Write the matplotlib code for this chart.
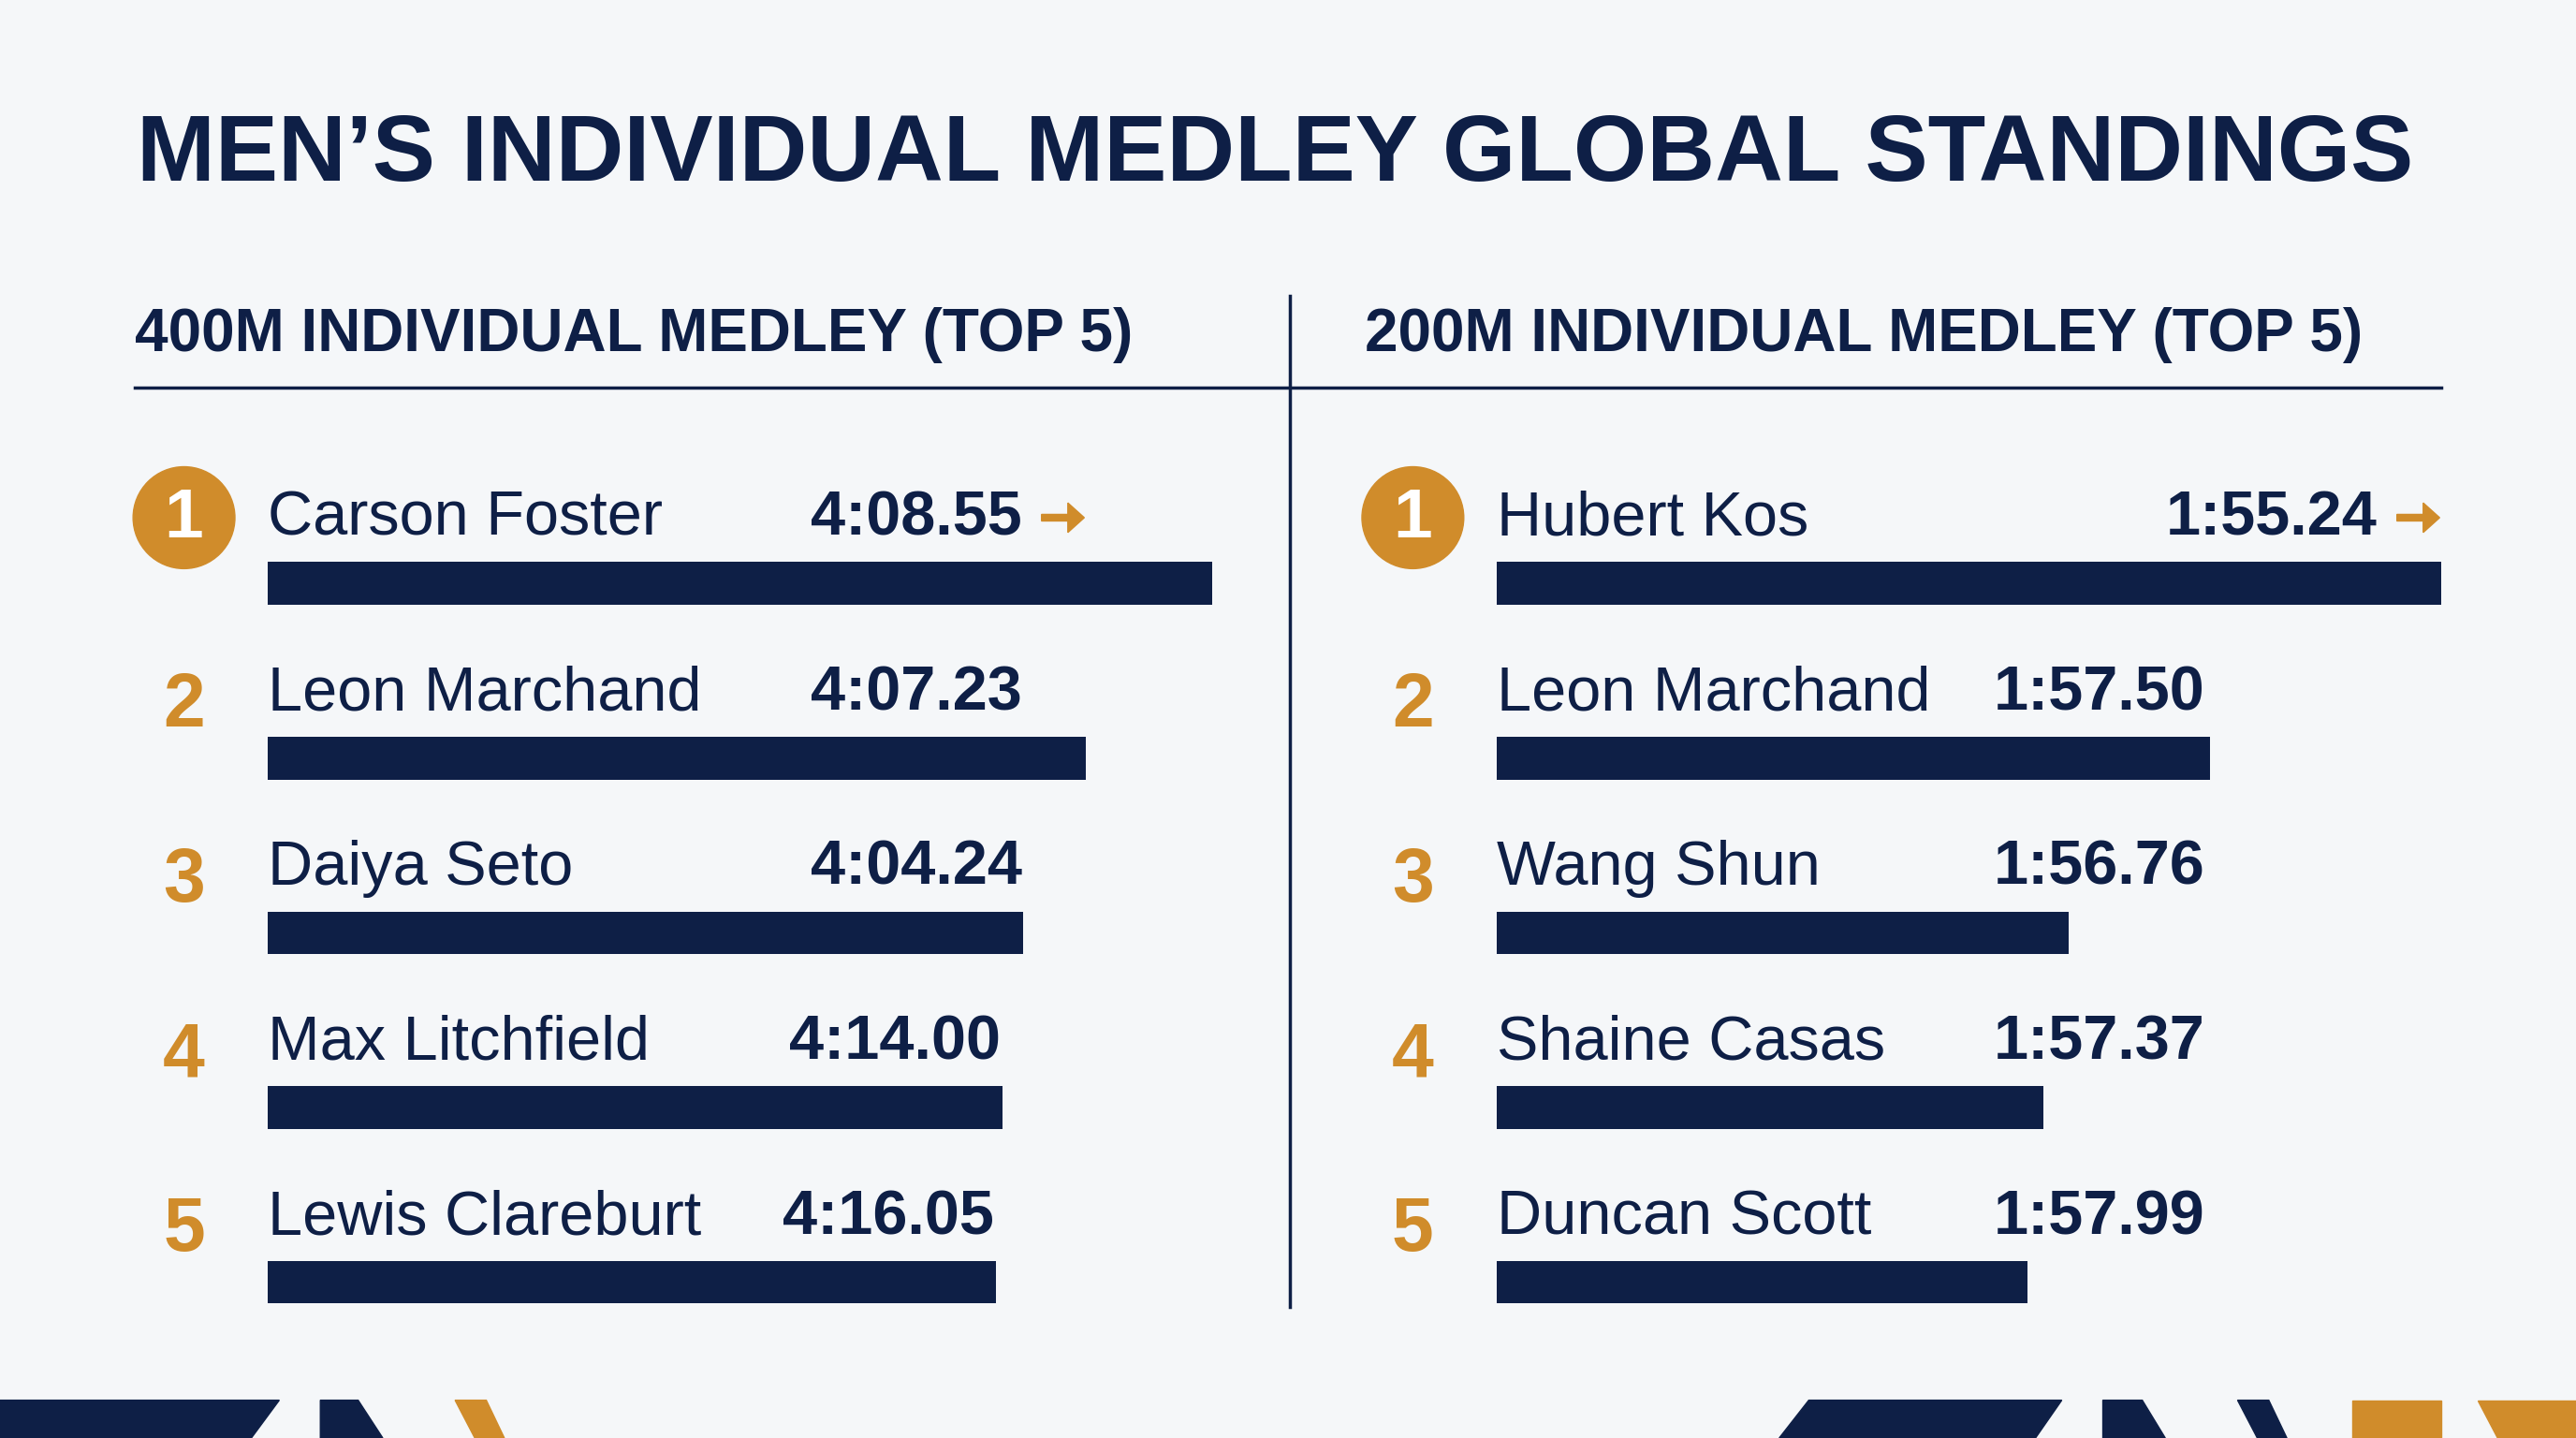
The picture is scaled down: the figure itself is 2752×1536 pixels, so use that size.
import matplotlib.pyplot as plt
from matplotlib.patches import Polygon, Circle, FancyArrow

# ------------------------
# Data
# ------------------------
names_400 = ["Carson Foster", "Leon Marchand", "Daiya Seto", "Max Litchfield", "Lewis Clareburt"]
times_400 = ["4:08.55", "4:07.23", "4:04.24", "4:14.00", "4:16.05"]
bars_400 = [575, 498, 460, 447, 443]

names_200 = ["Hubert Kos", "Leon Marchand", "Wang Shun", "Shaine Casas", "Duncan Scott"]
times_200 = ["1:55.24", "1:57.50", "1:56.76", "1:57.37", "1:57.99"]
bars_200 = [575, 434, 348, 333, 323]

ranks = [1, 2, 3, 4, 5]

NAVY = "#0E1F46"
GOLD = "#D08C2B"
BG = "#F5F7F9"
FONT = "Liberation Sans"

fig = plt.figure(figsize=(27.52, 15.36), dpi=100, facecolor=BG)
ax = fig.add_axes([0, 0, 1, 1])
ax.set_xlim(0, 1568)
ax.set_ylim(875, 0)
ax.axis("off")
ax.set_facecolor(BG)

ax.text(83, 95, "MEN\u2019S INDIVIDUAL MEDLEY GLOBAL STANDINGS", fontsize=72.5, fontweight="bold",
        color=NAVY, va="center", ha="left", family=FONT)

# layout of the two panels
panels = [
    (82, 163, [622, 622, 622, 609, 605], "400M INDIVIDUAL MEDLEY (TOP 5)", names_400, times_400, bars_400),
    (831, 911, [1447, 1342, 1342, 1342, 1342], "200M INDIVIDUAL MEDLEY (TOP 5)", names_200, times_200, bars_200),
]
row_y0, row_step = 316, 106.3

for x_head, x_bar, time_x, header, names, times, bars in panels:
    ax.text(x_head, 204, header, fontsize=46, fontweight="bold", color=NAVY,
            va="center", ha="left", family=FONT)
    for i, r in enumerate(ranks):
        y = row_y0 + i * row_step
        cx = x_bar - 51
        if r == 1:
            ax.add_patch(Circle((cx, y - 1), 31, color=GOLD, zorder=2))
            ax.text(cx, y, str(r), fontsize=54, fontweight="bold", color="white",
                    ha="center", va="center", family=FONT, zorder=3)
        else:
            ax.text(cx, y + 8, str(r), fontsize=58, fontweight="bold", color=GOLD,
                    ha="center", va="center", family=FONT)
        ax.text(x_bar, y, names[i], fontsize=48, color=NAVY, ha="left", va="center", family=FONT)
        ax.text(time_x[i], y, times[i], fontsize=48, fontweight="bold", color=NAVY,
                ha="right", va="center", family=FONT)
        if r == 1:
            ax.add_patch(FancyArrow(time_x[i] + 12, y - 1, 16, 0, width=4, head_width=18,
                                    head_length=10, color=GOLD, length_includes_head=False))
        ax.barh(y + 39, bars[i], height=26, left=x_bar, color=NAVY)

# rules
ax.plot([82, 1486], [236, 236], color=NAVY, lw=2.5)
ax.plot([785, 785], [180, 795], color=NAVY, lw=2.5)

# bottom decorative band
shapes = [
    ([(0, 852), (170, 852), (153, 875), (0, 875)], NAVY),
    ([(195, 852), (218, 852), (233, 875), (195, 875)], NAVY),
    ([(277, 852), (296, 852), (307, 875), (289, 875)], GOLD),
    ([(1101, 852), (1255, 852), (1239, 875), (1083, 875)], NAVY),
    ([(1280, 852), (1304, 852), (1318, 875), (1280, 875)], NAVY),
    ([(1362, 852), (1381, 852), (1392, 875), (1374, 875)], NAVY),
    ([(1432, 852), (1486, 852), (1486, 875), (1432, 875)], GOLD),
    ([(1508, 852), (1568, 852), (1568, 875), (1520, 875)], GOLD),
]
for pts, c in shapes:
    ax.add_patch(Polygon(pts, closed=True, color=c))

fig.savefig("out.png", dpi=100, facecolor=BG)
